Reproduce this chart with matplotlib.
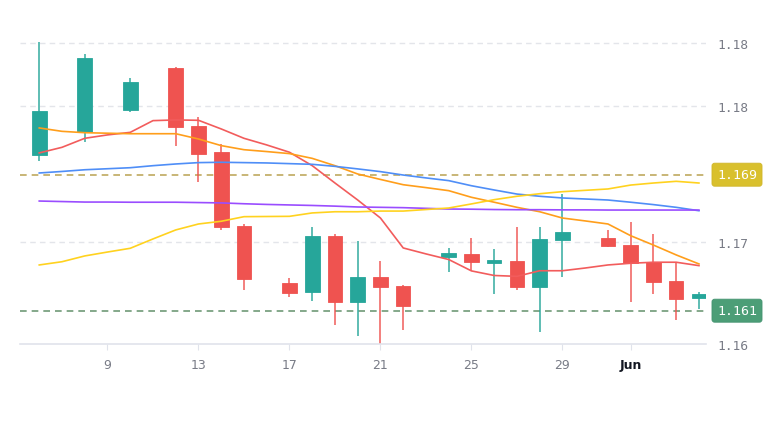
import numpy as np
import matplotlib.pyplot as plt

# days of May (Jun 1 = 32)
candle_days = [6, 8, 10, 12, 13, 14, 15, 17, 18, 19, 20, 21, 22,
               24, 25, 26, 27, 28, 29, 31, 32, 33, 34, 35]
opens = [1.17016, 1.17153, 1.17282, 1.17529, 1.17185, 1.17032, 1.16596, 1.16263,
         1.16208, 1.16539, 1.16149, 1.16300, 1.16243, 1.16414, 1.16433, 1.16381,
         1.16394, 1.16238, 1.16516, 1.16528, 1.16488, 1.16385, 1.16273, 1.16173]
highs = [1.17679, 1.17610, 1.17467, 1.17532, 1.17238, 1.17081, 1.16610, 1.16292,
         1.16591, 1.16551, 1.16512, 1.16391, 1.16253, 1.16471, 1.16526, 1.16463,
         1.16591, 1.16591, 1.16786, 1.16576, 1.16623, 1.16551, 1.16385, 1.16208]
lows = [1.16982, 1.17091, 1.17267, 1.17071, 1.16855, 1.16575, 1.16222, 1.16182,
        1.16159, 1.16018, 1.15953, 1.15898, 1.15988, 1.16329, 1.16335, 1.16198,
        1.16224, 1.15973, 1.16296, 1.16476, 1.16149, 1.16198, 1.16045, 1.16110]
closes = [1.17276, 1.17586, 1.17444, 1.17179, 1.17022, 1.16591, 1.16286, 1.16204,
          1.16539, 1.16149, 1.16300, 1.16241, 1.16126, 1.16438, 1.16385, 1.16398,
          1.16238, 1.16522, 1.16565, 1.16482, 1.16379, 1.16267, 1.16169, 1.16196]

line_days = list(range(6, 36))
ma_red = [1.17028, 1.17061, 1.17114, 1.17134, 1.17149, 1.17218, 1.17222, 1.17220,
          1.17169, 1.17114, 1.17075, 1.17032, 1.16953, 1.16851, 1.16751, 1.16645,
          1.16469, 1.16434, 1.16401, 1.16334, 1.16307, 1.16302, 1.16335, 1.16335,
          1.16351, 1.16369, 1.16379, 1.16385, 1.16385, 1.16365]
ma_orange = [1.17175, 1.17155, 1.17147, 1.17144, 1.17141, 1.17141, 1.17141, 1.17110,
             1.17071, 1.17047, 1.17036, 1.17024, 1.16996, 1.16953, 1.16904, 1.16872,
             1.16841, 1.16824, 1.16806, 1.16767, 1.16738, 1.16708, 1.16682, 1.16645,
             1.16628, 1.16610, 1.16541, 1.16486, 1.16428, 1.16375]
ma_blue = [1.16910, 1.16919, 1.16929, 1.16935, 1.16941, 1.16953, 1.16963, 1.16971,
           1.16973, 1.16971, 1.16969, 1.16965, 1.16961, 1.16949, 1.16934, 1.16918,
           1.16898, 1.16881, 1.16865, 1.16835, 1.16810, 1.16786, 1.16773, 1.16763,
           1.16757, 1.16751, 1.16738, 1.16724, 1.16708, 1.16688]
ma_purple = [1.16745, 1.16742, 1.16739, 1.16739, 1.16738, 1.16738, 1.16738, 1.16736,
             1.16734, 1.16729, 1.16725, 1.16722, 1.16719, 1.16715, 1.16710, 1.16708,
             1.16706, 1.16702, 1.16698, 1.16697, 1.16695, 1.16694, 1.16694, 1.16693,
             1.16693, 1.16692, 1.16692, 1.16692, 1.16692, 1.16692]
ma_yellow = [1.16369, 1.16388, 1.16422, 1.16445, 1.16467, 1.16522, 1.16575, 1.16610,
             1.16626, 1.16653, 1.16654, 1.16655, 1.16675, 1.16682, 1.16682, 1.16686,
             1.16686, 1.16695, 1.16704, 1.16728, 1.16753, 1.16773, 1.16788, 1.16800,
             1.16808, 1.16816, 1.16839, 1.16851, 1.16861, 1.16851]

level_hi = 1.169
level_lo = 1.161

ytick_vals = [1.17675, 1.17302, 1.16502, 1.15904]
ytick_labels = ['1.18', '1.18', '1.17', '1.16']
xtick_vals = [9, 13, 17, 21, 25, 29, 32]
xtick_labels = ['9', '13', '17', '21', '25', '29', 'Jun']

up_col = '#26a69a'
down_col = '#ef5350'
txt_col = '#787b86'

fig = plt.figure(figsize=(7.7, 4.35), dpi=100)
ax = fig.add_axes([20 / 770, 90 / 435, 686 / 770, 315 / 435])

ax.set_xlim(5.154, 35.31)
ax.set_ylim(1.15904, 1.17757)

# grid
for v in ytick_vals[:-1]:
    ax.axhline(v, color='#e3e5ea', lw=1, ls=(0, (4, 3)), zorder=0)

# candles
o = np.array(opens)
c = np.array(closes)
cols = [up_col if cc >= oo else down_col for oo, cc in zip(o, c)]
ax.vlines(candle_days, lows, highs, colors=cols, lw=1.3, alpha=0.8, zorder=2)
ax.bar(candle_days, np.abs(c - o), bottom=np.minimum(o, c), width=0.64,
       color=cols, edgecolor=cols, lw=0.6, zorder=3)

# moving averages
ax.plot(line_days, ma_red, color='#f25c5c', lw=1.2, zorder=4)
ax.plot(line_days, ma_orange, color='#ff9e1b', lw=1.2, zorder=4)
ax.plot(line_days, ma_blue, color='#4f8ef7', lw=1.2, zorder=4)
ax.plot(line_days, ma_purple, color='#9a4dff', lw=1.2, zorder=4)
ax.plot(line_days, ma_yellow, color='#ffd21f', lw=1.2, zorder=4)

# price levels
ax.axhline(level_hi, color='#bfa95f', lw=1.2, ls=(0, (4, 3)), zorder=1)
ax.axhline(level_lo, color='#6f9a77', lw=1.2, ls=(0, (4, 3)), zorder=1)

lx = 1.0 + 11 / 686
ax.text(lx, level_hi, '%.3f' % level_hi, transform=ax.get_yaxis_transform(),
        ha='left', va='center', color='white', fontsize=9.5, family='DejaVu Sans Mono',
        bbox=dict(boxstyle='round,pad=0.38,rounding_size=0.2', fc='#d9c02d', ec='#d0b62a', lw=0.6))
ax.text(lx, level_lo, '%.3f' % level_lo, transform=ax.get_yaxis_transform(),
        ha='left', va='center', color='white', fontsize=9.5, family='DejaVu Sans Mono',
        bbox=dict(boxstyle='round,pad=0.38,rounding_size=0.2', fc='#4c9e77', ec='#449370', lw=0.6))

# axes styling
for s in ['top', 'left', 'right']:
    ax.spines[s].set_visible(False)
ax.spines['bottom'].set_color('#e0e3eb')
ax.spines['bottom'].set_linewidth(1.2)

ax.yaxis.tick_right()
ax.set_yticks(ytick_vals)
ax.set_yticklabels(ytick_labels, family='DejaVu Sans Mono', fontsize=9.3, color=txt_col)
ax.tick_params(axis='y', length=0, pad=8)

ax.set_xticks(xtick_vals)
ax.set_xticklabels(xtick_labels, fontsize=9, color=txt_col)
ax.tick_params(axis='x', length=4, color='#e0e3eb', pad=6)
lbl = ax.get_xticklabels()[-1]
lbl.set_fontweight('bold')
lbl.set_color('#131722')

fig.savefig('out.png', dpi=100, facecolor='white')
